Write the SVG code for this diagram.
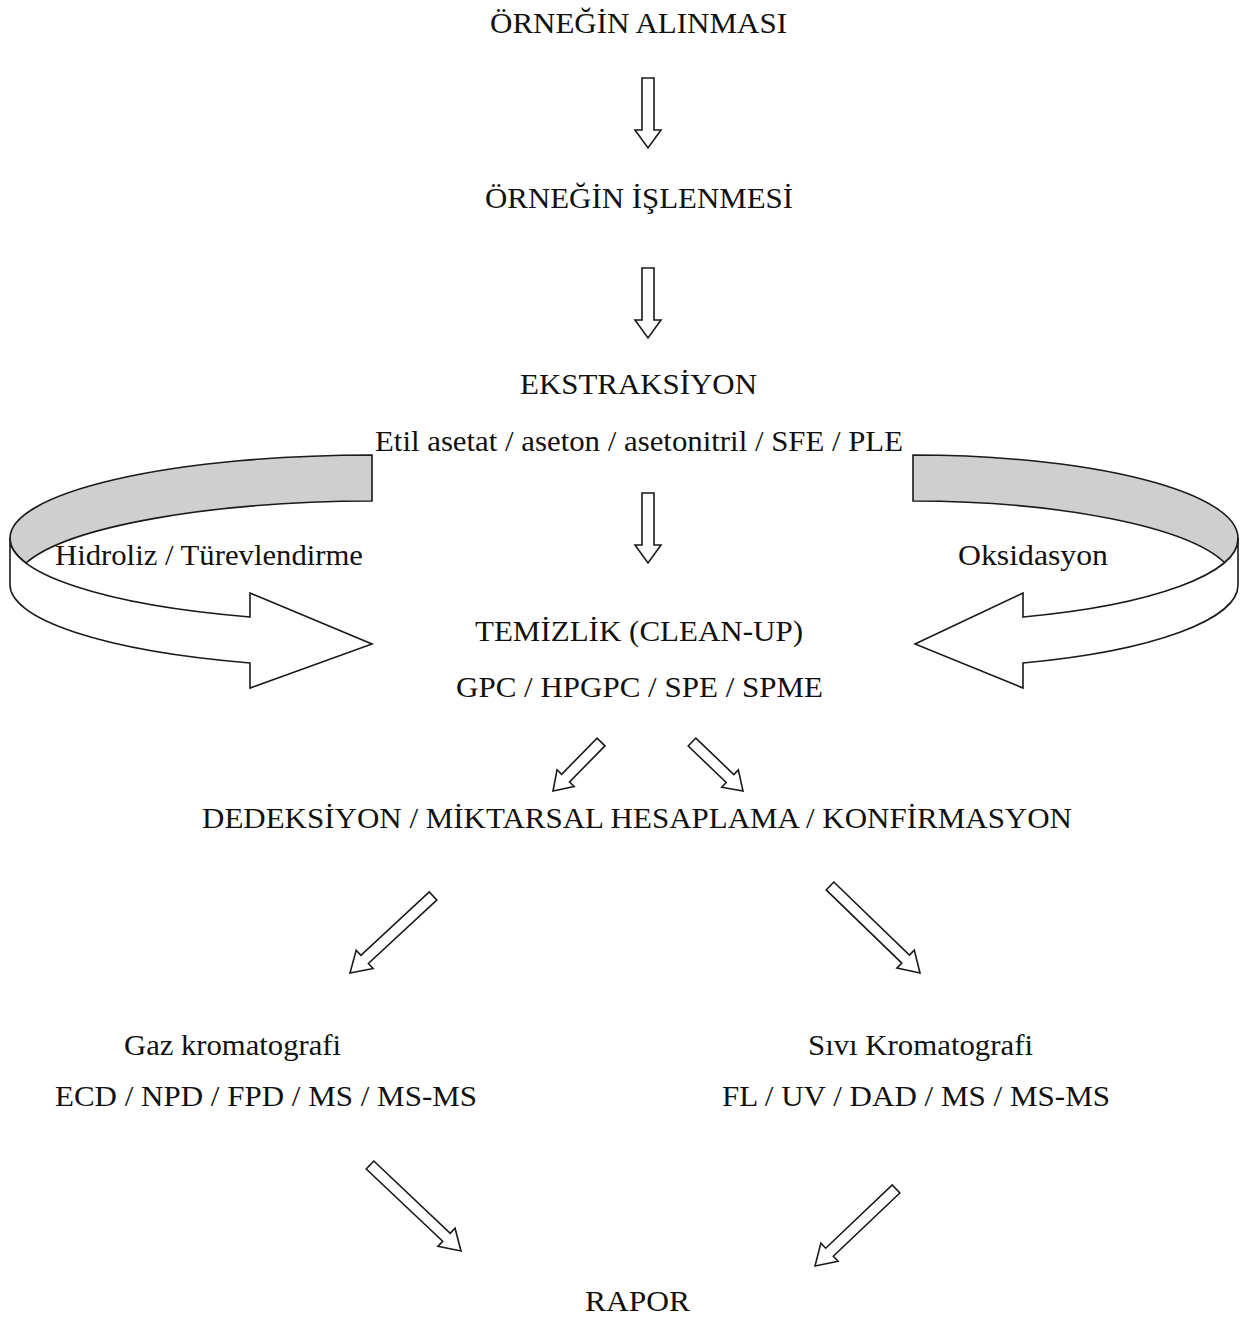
<svg xmlns="http://www.w3.org/2000/svg" width="1242" height="1317" viewBox="0 0 1242 1317">
<style>
text { font-family: "Liberation Serif", "Times New Roman", serif; font-size: 29px; fill: #111; }
.arr { fill: #fff; stroke: #1a1a1a; stroke-width: 1.6; stroke-linejoin: miter; }
.band { fill: #cfcfcf; stroke: #1a1a1a; stroke-width: 1.6; }
.front { fill: #fff; stroke: #1a1a1a; stroke-width: 1.6; stroke-linejoin: miter; }
</style>
<rect width="1242" height="1317" fill="#fff"/>

<g id="connectors">
  <!-- vertical hollow arrows -->
  <g transform="translate(648,148) rotate(90)"><polygon class="arr" points="-70,-6 -18,-6 -18,-13 0,0 -18,13 -18,6 -70,6"/></g>
  <g transform="translate(648,338) rotate(90)"><polygon class="arr" points="-70,-6 -18,-6 -18,-13 0,0 -18,13 -18,6 -70,6"/></g>
  <g transform="translate(648,563) rotate(90)"><polygon class="arr" points="-70,-6 -18,-6 -18,-13 0,0 -18,13 -18,6 -70,6"/></g>
  <!-- small diagonal arrows -->
  <g transform="translate(553,791) rotate(134.4)"><polygon class="arr" points="-68.6,-5.5 -18,-5.5 -18,-12 0,0 -18,12 -18,5.5 -68.6,5.5"/></g>
  <g transform="translate(743,791) rotate(43.85)"><polygon class="arr" points="-70.7,-5.5 -18,-5.5 -18,-12 0,0 -18,12 -18,5.5 -70.7,5.5"/></g>
  <!-- medium diagonal arrows -->
  <g transform="translate(350,973) rotate(137.15)"><polygon class="arr" points="-113.2,-5.5 -20,-5.5 -20,-12.5 0,0 -20,12.5 -20,5.5 -113.2,5.5"/></g>
  <g transform="translate(920,973) rotate(44.03)"><polygon class="arr" points="-125.2,-5.5 -20,-5.5 -20,-12.5 0,0 -20,12.5 -20,5.5 -125.2,5.5"/></g>
  <!-- bottom diagonal arrows -->
  <g transform="translate(461,1251) rotate(43.38)"><polygon class="arr" points="-125.2,-5.5 -20,-5.5 -20,-12.5 0,0 -20,12.5 -20,5.5 -125.2,5.5"/></g>
  <g transform="translate(815,1266) rotate(136.45)"><polygon class="arr" points="-111.8,-5.5 -20,-5.5 -20,-12.5 0,0 -20,12.5 -20,5.5 -111.8,5.5"/></g>
  <!-- left curved arrow -->
  <g id="curved-left">
    <path class="band" d="M372,455 A362,83 0 0 0 10,538 A362,83 0 0 0 26,563 A362,83 0 0 1 372,501 Z"/>
    <path class="front" d="M10,538 A362,83 0 0 0 250,617 L250,593 L372,644 L250,688 L250,663 A362,83 0 0 1 10,584 Z"/>
  </g>
  <!-- right curved arrow -->
  <g id="curved-right">
    <path class="band" d="M913,455 A325,83 0 0 1 1238,538 A325,83 0 0 1 1225,563 A325,83 0 0 0 913,501 Z"/>
    <path class="front" d="M1238,538 A325,83 0 0 1 1023,617 L1023,593 L915,644 L1023,688 L1023,663 A325,83 0 0 0 1238,584 Z"/>
  </g>
</g>

<g id="node-orneklerin-alinmasi"><text x="490" y="33" textLength="297" lengthAdjust="spacingAndGlyphs">ÖRNEĞİN ALINMASI</text></g>
<g id="node-orneklerin-islenmesi"><text x="485" y="208" textLength="308" lengthAdjust="spacingAndGlyphs">ÖRNEĞİN İŞLENMESİ</text></g>
<g id="node-ekstraksiyon">
  <text x="520" y="394" textLength="237" lengthAdjust="spacingAndGlyphs">EKSTRAKSİYON</text>
  <text x="375" y="451" textLength="528" lengthAdjust="spacingAndGlyphs">Etil asetat / aseton / asetonitril / SFE / PLE</text>
</g>
<g id="label-hidroliz"><text x="55" y="565" textLength="308" lengthAdjust="spacingAndGlyphs">Hidroliz / Türevlendirme</text></g>
<g id="label-oksidasyon"><text x="958" y="565" textLength="150" lengthAdjust="spacingAndGlyphs">Oksidasyon</text></g>
<g id="node-temizlik">
  <text x="475" y="641" textLength="328" lengthAdjust="spacingAndGlyphs">TEMİZLİK (CLEAN-UP)</text>
  <text x="456" y="697" textLength="367" lengthAdjust="spacingAndGlyphs">GPC / HPGPC / SPE / SPME</text>
</g>
<g id="node-dedeksiyon"><text x="202" y="828" textLength="870" lengthAdjust="spacingAndGlyphs">DEDEKSİYON / MİKTARSAL HESAPLAMA / KONFİRMASYON</text></g>
<g id="node-gaz">
  <text x="124" y="1055" textLength="217" lengthAdjust="spacingAndGlyphs">Gaz kromatografi</text>
  <text x="55" y="1106" textLength="422" lengthAdjust="spacingAndGlyphs">ECD / NPD / FPD / MS / MS-MS</text>
</g>
<g id="node-sivi">
  <text x="808" y="1055" textLength="225" lengthAdjust="spacingAndGlyphs">Sıvı Kromatografi</text>
  <text x="722" y="1106" textLength="388" lengthAdjust="spacingAndGlyphs">FL / UV / DAD / MS / MS-MS</text>
</g>
<g id="node-rapor"><text x="585" y="1311" textLength="105" lengthAdjust="spacingAndGlyphs">RAPOR</text></g>
</svg>
